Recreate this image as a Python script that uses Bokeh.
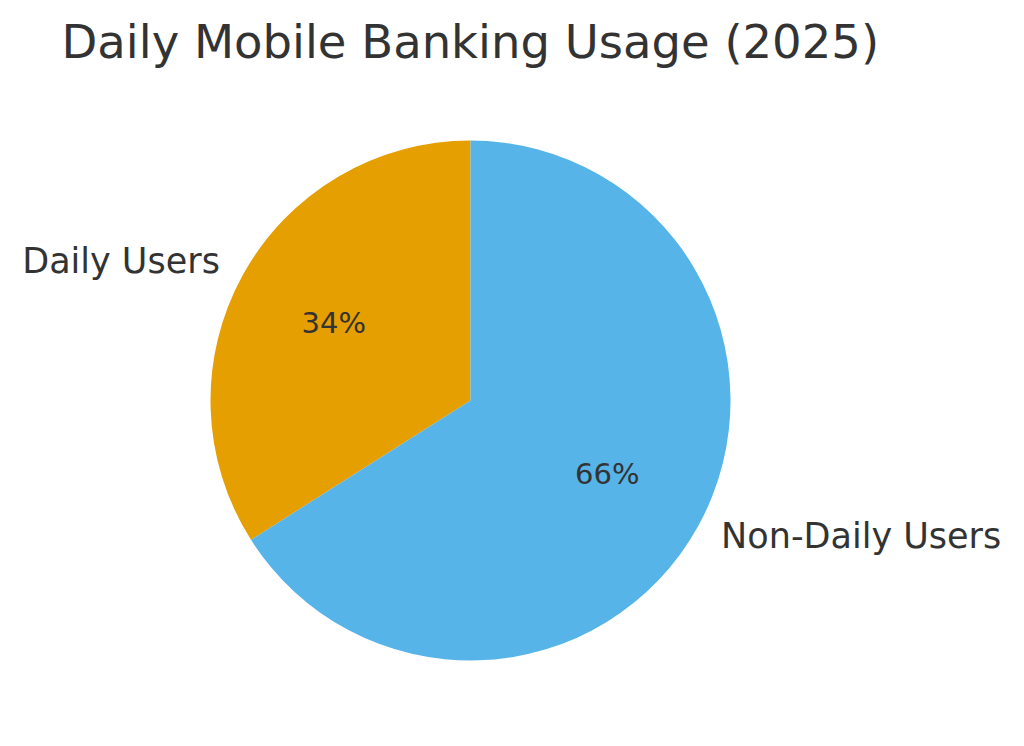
import math
from bokeh.plotting import figure
from bokeh.models import Range1d, ColumnDataSource
from bokeh.core.properties import value
from bokeh.embed import file_html
from bokeh.resources import INLINE

categories = ["Daily Users", "Non-Daily Users"]
shares = [34, 66]
colors = ["#E69F00", "#56B4E9"]
title_text = "Daily Mobile Banking Usage (2025)"

W, H = 1008, 730
p = figure(width=W, height=H, output_backend="svg", toolbar_location=None,
           x_range=Range1d(0, W), y_range=Range1d(0, H), min_border=0)
p.axis.visible = False
p.grid.visible = False
p.outline_line_color = None
p.background_fill_color = "white"
p.border_fill_color = "white"

# page-pixel helpers
def px(x):
    return x
def py(y):
    return H - y

cx, cy, r = px(470), py(400), 260
total = float(sum(shares))
starts, ends, mids = [], [], []
a = 90.0
for s in shares:
    sweep = 360.0 * s / total
    starts.append(math.radians(a))
    ends.append(math.radians(a + sweep))
    mids.append(math.radians(a + sweep / 2))
    a += sweep

src = ColumnDataSource(dict(start=starts, end=ends, color=colors))
p.wedge(x=cx, y=cy, radius=r, start_angle="start", end_angle="end",
        fill_color="color", line_color=None, source=src)

font = value("DejaVu Sans")
txt_color = "#333333"

for i, cat in enumerate(categories):
    m = mids[i]
    lx = cx + 1.1 * r * math.cos(m)
    ly = cy + 1.1 * r * math.sin(m)
    align = "left" if math.cos(m) > 0 else "right"
    p.text(x=[lx], y=[ly], text=[cat], text_font=font, text_font_size="35px",
           text_color=txt_color, text_align=align, text_baseline="middle",
           y_offset=-2)
    tx = cx + 0.6 * r * math.cos(m)
    ty = cy + 0.6 * r * math.sin(m)
    p.text(x=[tx], y=[ty], text=[f"{shares[i]:.0f}%"], text_font=font,
           text_font_size="29px", text_color=txt_color, text_align="center",
           text_baseline="middle", y_offset=-2)

p.text(x=[px(61)], y=[py(41)], text=[title_text], text_font=font,
       text_font_size="46.5px", text_color=txt_color, text_align="left",
       text_baseline="middle")

open("out.html", "w").write(file_html(p, INLINE))
